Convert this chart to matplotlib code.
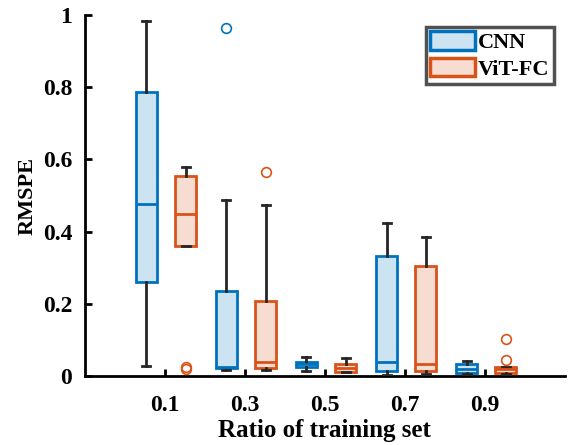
import numpy as np
import matplotlib
matplotlib.use('Agg')
import matplotlib.pyplot as plt
from matplotlib.patches import Patch

plt.rcParams['font.family'] = 'Liberation Serif'
plt.rcParams['font.weight'] = 'bold'

# ---- data ----
ratios = ['0.1', '0.3', '0.5', '0.7', '0.9']
# whisker low, q1, median, q3, whisker high
cnn_whislo = [0.028, 0.017, 0.015, 0.003, 0.005]
cnn_q1     = [0.261, 0.022, 0.025, 0.014, 0.009]
cnn_med    = [0.478, 0.024, 0.033, 0.038, 0.020]
cnn_q3     = [0.786, 0.236, 0.040, 0.333, 0.034]
cnn_whishi = [0.983, 0.489, 0.053, 0.424, 0.043]
cnn_fliers = [[], [0.963], [], [], []]

vit_whislo = [0.361, 0.016, 0.012, 0.005, 0.005]
vit_q1     = [0.361, 0.022, 0.012, 0.014, 0.009]
vit_med    = [0.450, 0.040, 0.023, 0.033, 0.020]
vit_q3     = [0.553, 0.209, 0.033, 0.305, 0.026]
vit_whishi = [0.578, 0.475, 0.049, 0.385, 0.026]
vit_fliers = [[0.025, 0.019], [0.566], [], [], [0.102, 0.045]]

blue = '#0072BD'
orange = '#D95319'
blue_fill = '#CCE3F2'
orange_fill = '#F7DDD1'
dark = '#262626'


def make_stats(lo, q1, med, q3, hi, fl):
    return [dict(whislo=a, q1=b, med=c, q3=d, whishi=e, fliers=f)
            for a, b, c, d, e, f in zip(lo, q1, med, q3, hi, fl)]


fig = plt.figure(figsize=(5.69, 4.45), dpi=100)
ax = fig.add_axes([0.149, 0.155, 0.844, 0.811])

pos = np.arange(1, len(ratios) + 1)
groups = [
    (make_stats(cnn_whislo, cnn_q1, cnn_med, cnn_q3, cnn_whishi, cnn_fliers), -0.23, blue, blue_fill),
    (make_stats(vit_whislo, vit_q1, vit_med, vit_q3, vit_whishi, vit_fliers), 0.26, orange, orange_fill),
]
for stats, off, col, fill in groups:
    ax.bxp(stats, positions=pos + off, widths=0.26, patch_artist=True,
           boxprops=dict(facecolor=fill, edgecolor=col, linewidth=2),
           medianprops=dict(color=col, linewidth=2),
           whiskerprops=dict(color=dark, linewidth=2),
           capprops=dict(color=dark, linewidth=2),
           capwidths=0.1,
           flierprops=dict(marker='o', markerfacecolor='none',
                           markeredgecolor=col, markersize=7, markeredgewidth=1.2),
           manage_ticks=False, zorder=3)

ax.set_xlim(0, 6)
ax.set_ylim(0, 1)
ax.set_xticks(pos)
ax.set_xticklabels(ratios)
ax.set_yticks([0, 0.2, 0.4, 0.6, 0.8, 1])
ax.set_yticklabels(['0', '0.2', '0.4', '0.6', '0.8', '1'])
ax.tick_params(direction='in', length=5, width=2, labelsize=17)
ax.tick_params(axis='x', pad=14)
ax.tick_params(axis='y', pad=9)
ax.spines['top'].set_visible(False)
ax.spines['right'].set_visible(False)
ax.spines['left'].set_linewidth(2)
ax.spines['bottom'].set_linewidth(2)
ax.set_xlabel('Ratio of training set', fontsize=18, fontweight='bold', labelpad=2)
ax.set_ylabel('RMSPE', fontsize=16, fontweight='bold', labelpad=4)

handles = [Patch(facecolor=blue_fill, edgecolor=blue, linewidth=2.5, label='CNN'),
           Patch(facecolor=orange_fill, edgecolor=orange, linewidth=2.5, label='ViT-FC')]
leg = ax.legend(handles=handles, loc='upper right', bbox_to_anchor=(0.977, 0.967),
                fontsize=16, frameon=True, fancybox=False, edgecolor='#262626',
                handlelength=2.0, handleheight=0.9, handletextpad=0.15,
                borderpad=0.2, labelspacing=0.2, borderaxespad=0)
leg.get_frame().set_linewidth(2.5)

fig.savefig('out.png', dpi=100)
